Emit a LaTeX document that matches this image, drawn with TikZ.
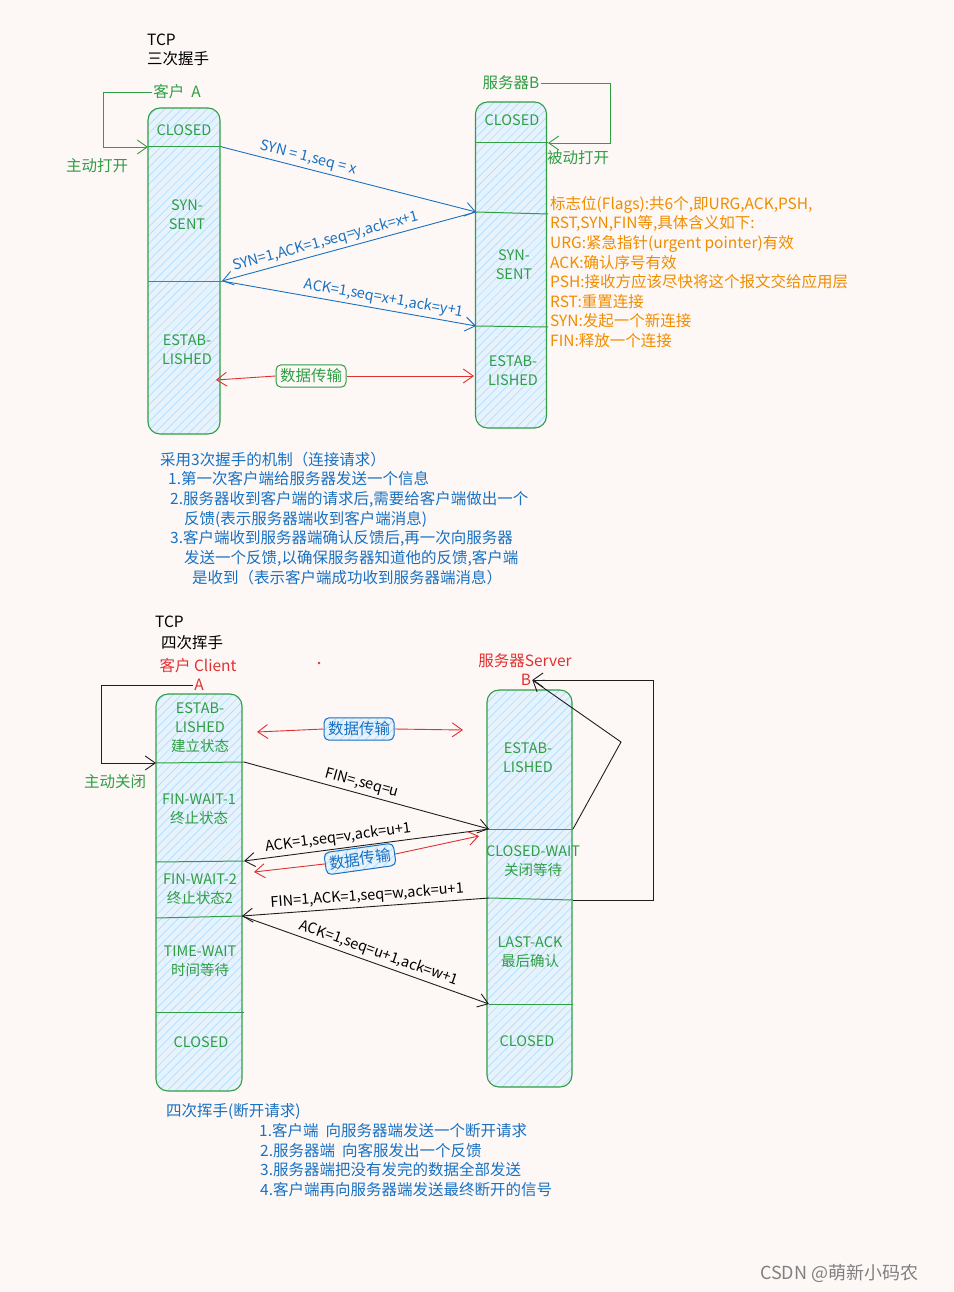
\documentclass[tikz,border=0pt]{standalone}
\usepackage{fontspec}
\setmainfont{Noto Sans CJK SC}
\usetikzlibrary{arrows.meta,positioning,patterns.meta,calc}
\definecolor{sgreen}{HTML}{2F9E44}
\definecolor{sblue}{HTML}{1971C2}
\definecolor{sred}{HTML}{E03131}
\definecolor{sorange}{HTML}{F08C00}
\definecolor{sblack}{HTML}{1E1E1E}
\definecolor{paper}{HTML}{FDF8F6}
\definecolor{hatch}{HTML}{A5D8FF}
\definecolor{boxfill}{HTML}{E6F2FC}

\begin{document}
\begin{tikzpicture}[
    x=1pt,y=-1pt,
    every node/.style={font=\fontsize{15.5}{19.6}\selectfont,inner sep=1pt},
    life/.style={draw=sgreen,line width=1.1pt,rounded corners=12pt,preaction={fill=boxfill},
        pattern={Lines[angle=45,distance=6pt,line width=0.5pt]},pattern color=hatch},
    state/.style={text=sgreen,align=center,font=\fontsize{14.5}{19}\selectfont},
    divider/.style={draw=sgreen,line width=1pt},
    tip/.style={-{Straight Barb[length=10pt,width=14pt]}},
    blarrow/.style={tip,draw=sblue,line width=0.9pt},
    karrow/.style={tip,draw=sblack,line width=0.9pt},
    rarrow/.style={tip,draw=sred,line width=0.9pt},
    garrow/.style={tip,draw=sgreen,line width=0.9pt},
    lbl/.style={sloped,above,inner sep=3pt,font=\fontsize{14.5}{16}\selectfont},
    databox/.style={rounded corners=5pt,line width=1pt,inner sep=4pt},
    note/.style={anchor=west,text=sblue}
]
    \path[fill=paper,use as bounding box] (0,0) rectangle (953,1292);

    % ---- three-way handshake ----
    \node[anchor=west] (tcp1) at (146,40) {TCP};
    \node[anchor=west] (title1) at (146,59) {三次握手};
    \node[text=sgreen] (clientA) at (177,92) {客户\ \ \textit{A}};
    \node[text=sgreen] (serverB) at (511,83) {服务器B};

    \node[life,minimum width=72pt,minimum height=326pt] (ca) at (184,271) {};
    \node[life,minimum width=71pt,minimum height=326pt] (sb) at (511,265) {};

    \draw[divider] (148,147) coordinate (ca1w) -- (222,147) coordinate (ca1e);
    \draw[divider] (148,281) -- (222,281) coordinate (ca2e);
    \draw[divider] (476,143) -- (548,143) coordinate (sb1e);
    \draw[divider] (476,212) coordinate (sb2w) -- (548,214);
    \draw[divider] (476,326) coordinate (sb3w) -- (548,327);

    \node[state] (caclosed) at (184,130) {CLOSED};
    \node[state] (casyn) at (187,215) {SYN-\\SENT};
    \node[state] (caest) at (187,350) {ESTAB-\\LISHED};
    \node[state] (sbclosed) at (512,120) {CLOSED};
    \node[state] (sbsyn) at (514,265) {SYN-\\SENT};
    \node[state] (sbest) at (513,371) {ESTAB-\\LISHED};

    \draw[garrow] (clientA.west) -- (103,92) |- (ca1w);
    \node[text=sgreen] (open1) at (97,166) {主动打开};
    \coordinate (sbloop) at (610,83);
    \draw[garrow] (serverB.east) -- (sbloop) |- (sb1e);
    \node[text=sgreen,anchor=west] (open2) at (546,158) {被动打开};

    \draw[blarrow] (ca1e) -- node[lbl,pos=0.33,text=sblue] {SYN = 1,seq = x} (sb2w);
    \draw[blarrow] (sb2w) -- node[lbl,pos=0.58,text=sblue] {SYN=1,ACK=1,seq=y,ack=x+1} (ca2e);
    \draw[blarrow] (ca2e) -- node[lbl,pos=0.63,text=sblue] {ACK=1,seq=x+1,ack=y+1} (sb3w);

    \node[databox,draw=sgreen,fill=paper,text=sgreen] (data1) at (311,376) {数据传输};
    \coordinate (cadata) at (216,380);
    \coordinate (sbdata) at (474,376);
    \draw[rarrow] (data1.west) -- (cadata);
    \draw[rarrow] (data1.east) -- (sbdata);

    \node[anchor=north west,align=left,text=sorange] (flags) at (549,195) {%
        标志位(Flags):共6个,即URG,ACK,PSH,\\
        RST,SYN,FIN等,具体含义如下:\\
        URG:紧急指针(urgent pointer)有效\\
        ACK:确认序号有效\\
        PSH:接收方应该尽快将这个报文交给应用层\\
        RST:重置连接\\
        SYN:发起一个新连接\\
        FIN:释放一个连接};

    \node[note] (n1) at (159,460) {采用3次握手的机制（连接请求）};
    \node[note] (n2) at (167,479) {1.第一次客户端给服务器发送一个信息};
    \node[note] (n3) at (169,499) {2.服务器收到客户端的请求后,需要给客户端做出一个};
    \node[note] (n4) at (183,519) {反馈(表示服务器端收到客户端消息)};
    \node[note] (n5) at (169,538) {3.客户端收到服务器端确认反馈后,再一次向服务器};
    \node[note] (n6) at (183,558) {发送一个反馈,以确保服务器知道他的反馈,客户端};
    \node[note] (n7) at (191,578) {是收到（表示客户端成功收到服务器端消息）};

    % ---- four-way wave ----
    \node[anchor=west] (tcp2) at (154,622) {TCP};
    \node[anchor=west] (title2) at (160,643) {四次挥手};
    \node[text=sred] (clientC) at (198,666) {客户\ Client};
    \node[text=sred] (letterA) at (199,685) {\textit{A}};
    \fill[sred] (319,663) circle (1.4);
    \node[text=sred] (serverS) at (525,661) {服务器Server};
    \node[text=sred] (letterB) at (526,680) {B};

    \node[life,minimum width=86pt,minimum height=397pt] (cc) at (199,892.5) {};
    \node[life,minimum width=85pt,minimum height=397pt] (ss) at (529.5,888.5) {};

    \draw[divider] (156,763) coordinate (cc1w) -- (244,762) coordinate (cc1e);
    \draw[divider] (156,862) -- (244,861) coordinate (cc2e);
    \draw[divider] (156,918) -- (242,916) coordinate (cc3e);
    \draw[divider] (156,1012) -- (244,1012);
    \draw[divider] (489,829) coordinate (ss1w) -- (573,829) coordinate (ss1e);
    \draw[divider] (489,898) coordinate (ss2w) -- (573,900) coordinate (ss2e);
    \draw[divider] (489,1004) coordinate (ss3w) -- (573,1004);

    \node[state] (ccest) at (200,728) {ESTAB-\\LISHED\\建立状态};
    \node[state] (ccfin1) at (199,809) {FIN-WAIT-1\\终止状态};
    \node[state] (ccfin2) at (200,889) {FIN-WAIT-2\\终止状态2};
    \node[state] (cctime) at (200,961) {TIME-WAIT\\时间等待};
    \node[state] (ccclosed) at (201,1042) {CLOSED};
    \node[state] (ssest) at (528,758) {ESTAB-\\LISHED};
    \node[state] (ssclose) at (533,861) {CLOSED-WAIT\\关闭等待};
    \node[state] (sslast) at (530,952) {LAST-ACK\\最后确认};
    \node[state] (ssclosed) at (527,1041) {CLOSED};

    \draw[karrow] (letterA.west) -- (101,685) |- (cc1w);
    \node[text=sgreen] (close1) at (115,782) {主动关闭};
    \coordinate (ssbend) at (621,742);
    \draw[karrow] (ss1e) -- (ssbend) -- (letterB.east);
    \coordinate (ssloop) at (653,900);
    \draw[karrow,{Straight Barb[length=10pt,width=14pt]}-] (letterB.east) -| (ssloop) -- (ss2e);

    \node[databox,draw=sblue,text=sblue,preaction={fill=boxfill},
        pattern={Lines[angle=45,distance=6pt,line width=0.5pt]},pattern color=hatch] (data2) at (359,729) {数据传输};
    \coordinate (ccdata) at (257,732);
    \coordinate (ssdata) at (463,730);
    \draw[rarrow] (data2.west) -- (ccdata);
    \draw[rarrow] (data2.east) -- (ssdata);

    \draw[karrow] (cc1e) -- node[lbl,pos=0.47] {FIN=,seq=u} (ss1w);
    \draw[karrow] (ss1w) -- node[lbl,pos=0.61] {ACK=1,seq=v,ack=u+1} (cc2e);
    \node[databox,draw=sblue,text=sblue,rotate=8,preaction={fill=boxfill},
        pattern={Lines[angle=45,distance=6pt,line width=0.5pt]},pattern color=hatch] (data3) at (360,859) {数据传输};
    \coordinate (ccdata2) at (254,872);
    \coordinate (ssdata2) at (479,836);
    \draw[rarrow] (data3.west) -- (ccdata2);
    \draw[rarrow] (data3.east) -- (ssdata2);
    \draw[karrow] (ss2w) -- node[lbl,pos=0.49] {FIN=1,ACK=1,seq=w,ack=u+1} (cc3e);
    \draw[karrow] (cc3e) -- node[lbl,pos=0.54] {ACK=1,seq=u+1,ack=w+1} (ss3w);

    \node[note] (m1) at (165,1111) {四次挥手(断开请求)};
    \node[note] (m2) at (258,1131) {1.客户端\ \ 向服务器端发送一个断开请求};
    \node[note] (m3) at (259,1151) {2.服务器端\ \ 向客服发出一个反馈};
    \node[note] (m4) at (259,1170) {3.服务器端把没有发完的数据全部发送};
    \node[note] (m5) at (259,1190) {4.客户端再向服务器端发送最终断开的信号};

    \node[anchor=west,text=gray,font=\fontsize{18}{20}\selectfont] (mark) at (759,1273) {CSDN @萌新小码农};
\end{tikzpicture}
\end{document}
